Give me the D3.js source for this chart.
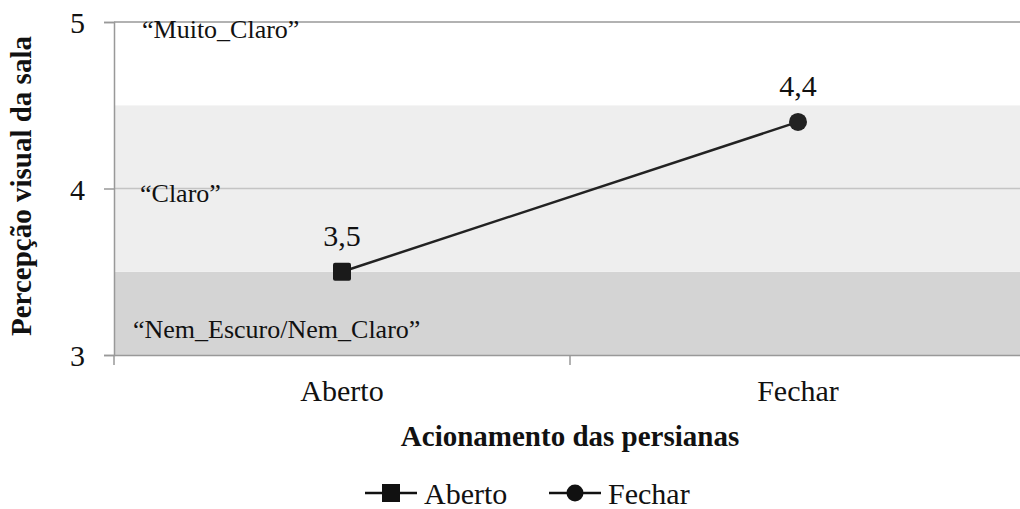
<!DOCTYPE html>
<html lang="en">
<head>
<meta charset="utf-8">
<style>
  body { margin: 0; background: white; }
</style>
</head>
<body>
<svg id="chart" width="1020" height="509" font-family="Liberation Serif"></svg>
<script src="https://cdn.jsdelivr.net/npm/d3@7"></script>
<script>
// data
var categories = ["Aberto", "Fechar"]
var values = [3.5, 4.4]
var valueLabels = ["3,5", "4,4"]
var yTicks = [3, 4, 5]
var bands = [
  {from: 3, to: 3.5, label: "\u201cNem_Escuro/Nem_Claro\u201d", fill: "#d4d4d4"},
  {from: 3.5, to: 4.5, label: "\u201cClaro\u201d", fill: "#eeeeee"},
  {from: 4.5, to: 5, label: "\u201cMuito_Claro\u201d", fill: "#ffffff"}
]
var bandLabelPos = [3.102, 3.919, 4.904]

var margin = {left: 114, top: 22}
var width = 912, height = 333
var serif = "Liberation Serif"

var svg = d3.select("#chart")
var g = svg.append("g").attr("transform", "translate(" + margin.left + "," + margin.top + ")")

var x = d3.scaleBand().domain(categories).range([0, width])
var y = d3.scaleLinear().domain([3, 5]).range([height, 0])

// background bands
g.selectAll(".band").data(bands).enter().append("rect")
  .attr("x", 0).attr("width", width)
  .attr("y", function(d){ return y(d.to) })
  .attr("height", function(d){ return y(d.from) - y(d.to) })
  .attr("fill", function(d){ return d.fill })

// gridlines
g.selectAll(".grid").data(yTicks.slice(1)).enter().append("line")
  .attr("x1", 0).attr("x2", width)
  .attr("y1", function(d){ return y(d) }).attr("y2", function(d){ return y(d) })
  .attr("stroke", function(d){ return d == 5 ? "#999" : "#c4c4c4" })
  .attr("stroke-width", 1.5)

// band labels
g.selectAll(".bandLabel").data(bands).enter().append("text")
  .attr("x", function(d, i){ return [19, 26, 28][i] })
  .attr("y", function(d, i){ return y(bandLabelPos[i]) })
  .attr("font-family", serif)
  .attr("font-size", "26px")
  .attr("fill", "#111")
  .text(function(d){ return d.label })

// y axis
var yAxis = g.append("g").call(d3.axisLeft(y).tickValues(yTicks).tickFormat(d3.format("d")).tickSize(10).tickPadding(19))
yAxis.attr("font-family", serif)
yAxis.select(".domain").attr("stroke", "#999").attr("stroke-width", 1.5)
yAxis.selectAll(".tick line").attr("stroke", "#999").attr("stroke-width", 1.5)
yAxis.selectAll(".tick text").attr("font-size", "30px").attr("fill", "#111").attr("dy", "0.35em")

// x axis
var xAxis = g.append("g").attr("transform", "translate(0," + height + ")")
  .call(d3.axisBottom(x).tickSize(0).tickPadding(25))
xAxis.attr("font-family", serif)
xAxis.select(".domain").attr("stroke", "#999").attr("stroke-width", 1.5)
xAxis.selectAll(".tick text").attr("font-size", "30px").attr("fill", "#111")
g.selectAll(".xtick").data([0, width / 2, width]).enter().append("line")
  .attr("x1", function(d){ return d }).attr("x2", function(d){ return d })
  .attr("y1", height).attr("y2", height + 10)
  .attr("stroke", "#999").attr("stroke-width", 1.5)

// line
var cx = function(i){ return x(categories[i]) + x.bandwidth() / 2 }
var line = d3.line()
  .x(function(d, i){ return cx(i) })
  .y(function(d){ return y(d) })
g.append("path").datum(values)
  .attr("d", line).attr("fill", "none").attr("stroke", "#222").attr("stroke-width", 2.5)

// markers
g.append("rect")
  .attr("x", cx(0) - 9).attr("y", y(values[0]) - 9)
  .attr("width", 18).attr("height", 18).attr("rx", 2)
  .attr("fill", "#1a1a1a")
g.append("circle")
  .attr("cx", cx(1)).attr("cy", y(values[1])).attr("r", 9)
  .attr("fill", "#222")

// value labels
g.selectAll(".valueLabel").data(values).enter().append("text")
  .attr("x", function(d, i){ return cx(i) })
  .attr("y", function(d){ return y(d) - 26 })
  .attr("text-anchor", "middle")
  .attr("font-family", serif)
  .attr("font-size", "30px")
  .attr("fill", "#111")
  .text(function(d, i){ return valueLabels[i] })

// axis titles
svg.append("text")
  .attr("x", 570).attr("y", 446)
  .attr("text-anchor", "middle").attr("font-weight", "bold").attr("font-size", "29px")
  .attr("font-family", serif)
  .attr("fill", "#111")
  .text("Acionamento das persianas")

svg.append("text")
  .attr("transform", "translate(31,186) rotate(-90)")
  .attr("text-anchor", "middle").attr("font-weight", "bold").attr("font-size", "29px")
  .attr("font-family", serif)
  .attr("fill", "#111")
  .text("Percepção visual da sala")

// legend
var legend = svg.append("g").attr("transform", "translate(0,504)")
var lx = [391, 575]
legend.selectAll("line").data(categories).enter().append("line")
  .attr("x1", function(d, i){ return lx[i] - 26 }).attr("x2", function(d, i){ return lx[i] + 26 })
  .attr("y1", -11).attr("y2", -11)
  .attr("stroke", "#111").attr("stroke-width", 2.5)
legend.append("rect").attr("x", lx[0] - 9).attr("y", -20).attr("width", 18).attr("height", 18).attr("fill", "#111")
legend.append("circle").attr("cx", lx[1]).attr("cy", -11).attr("r", 8.5).attr("fill", "#111")
legend.selectAll("text").data(categories).enter().append("text")
  .attr("x", function(d, i){ return lx[i] + 33 })
  .attr("y", 0)
  .attr("font-family", serif)
  .attr("font-size", "30px").attr("fill", "#111")
  .text(function(d){ return d })
</script>
</body>
</html>
